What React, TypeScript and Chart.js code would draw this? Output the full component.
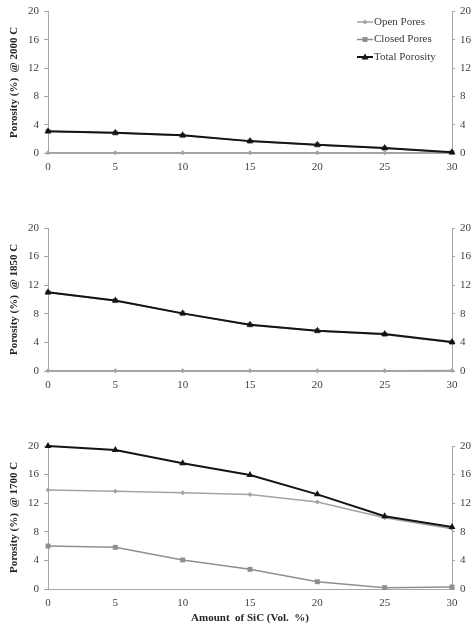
import React, { useEffect, useRef } from 'react';
import { Chart, registerables } from 'chart.js';
Chart.register(...registerables);

// ---- data ----
const sicAmount = [0, 5, 10, 15, 20, 25, 30];
const seriesNames = ['Open Pores', 'Closed Pores', 'Total Porosity'];

const open2000 = [0.03, 0.03, 0.03, 0.03, 0.03, 0.03, 0.03];
const closed2000 = [3.05, 2.82, 2.47, 1.65, 1.14, 0.67, 0.07];
const total2000 = [3.08, 2.85, 2.5, 1.68, 1.17, 0.7, 0.1];

const open1850 = [0.03, 0.03, 0.03, 0.03, 0.03, 0.05, 0.08];
const closed1850 = [10.97, 9.84, 8.03, 6.45, 5.61, 5.12, 3.97];
const total1850 = [11.0, 9.87, 8.06, 6.48, 5.64, 5.17, 4.05];

const open1700 = [13.85, 13.66, 13.47, 13.2, 12.17, 9.98, 8.44];
const closed1700 = [6.01, 5.83, 4.06, 2.75, 1.02, 0.19, 0.28];
const total1700 = [20.0, 19.44, 17.58, 15.94, 13.24, 10.17, 8.67];

const yMin = 0;
const yMax = 20;
const yStep = 4;
const xStep = 5;

const FONT = 'Liberation Serif';
const AXIS = '#a6a6a6';
const TICK = '#404040';

const styles = [
  { color: '#a3a3a3', width: 1.5, point: 'rectRot', radius: 2.5 },
  { color: '#8f8f8f', width: 1.5, point: 'rect', radius: 3.5 },
  { color: '#141414', width: 2, point: 'triangle', radius: 4 },
];

function legendPlugin(show: boolean) {
  return {
    id: 'customLegend',
    afterDraw(chart: any) {
      if (!show) return;
      const ctx = chart.ctx;
      const x0 = 357;
      const rows = [22, 39.5, 57];
      ctx.save();
      rows.forEach((y, i) => {
        const st = styles[i];
        ctx.strokeStyle = st.color;
        ctx.lineWidth = st.width;
        ctx.beginPath();
        ctx.moveTo(x0, y);
        ctx.lineTo(x0 + 16, y);
        ctx.stroke();
        const cx = x0 + 8;
        ctx.fillStyle = st.color;
        ctx.beginPath();
        if (st.point === 'rect') {
          ctx.rect(cx - 2.5, y - 2.5, 5, 5);
        } else if (st.point === 'rectRot') {
          ctx.moveTo(cx, y - 2.5);
          ctx.lineTo(cx + 2.5, y);
          ctx.lineTo(cx, y + 2.5);
          ctx.lineTo(cx - 2.5, y);
          ctx.closePath();
        } else {
          ctx.moveTo(cx, y - 3.5);
          ctx.lineTo(cx + 3.5, y + 2.5);
          ctx.lineTo(cx - 3.5, y + 2.5);
          ctx.closePath();
        }
        ctx.fill();
        ctx.fillStyle = '#3a3a3a';
        ctx.font = `11px "${FONT}"`;
        ctx.textBaseline = 'middle';
        ctx.textAlign = 'left';
        ctx.fillText(seriesNames[i], x0 + 17, y);
      });
      ctx.restore();
    },
  };
}

type PanelProps = {
  top: number;
  height: number;
  padTop: number;
  xHeight: number;
  temp: string;
  open: number[];
  closed: number[];
  total: number[];
  legend?: boolean;
  xTitle?: boolean;
};

function Panel(p: PanelProps) {
  const ref = useRef<HTMLCanvasElement>(null);
  useEffect(() => {
    if (!ref.current) return;
    const series = [p.open, p.closed, p.total];
    const datasets = series.map((vals, i) => ({
      label: seriesNames[i],
      data: vals.map((v, j) => ({ x: sicAmount[j], y: v })),
      borderColor: styles[i].color,
      backgroundColor: styles[i].color,
      borderWidth: styles[i].width,
      pointStyle: styles[i].point as any,
      pointRadius: styles[i].radius,
      pointBorderWidth: 0,
      pointBackgroundColor: styles[i].color,
      tension: 0,
      order: 2 - i,
      clip: false as any,
      yAxisID: 'y',
    }));
    const tickFont = { family: FONT, size: 11 };
    const chart = new Chart(ref.current, {
      type: 'line',
      data: { datasets },
      plugins: [legendPlugin(!!p.legend)],
      options: {
        animation: false,
        responsive: false,
        devicePixelRatio: 1,
        layout: { padding: { top: p.padTop, left: 0, right: 0, bottom: 0 } },
        plugins: { legend: { display: false }, tooltip: { enabled: false } },
        scales: {
          x: {
            type: 'linear',
            min: sicAmount[0],
            max: sicAmount[sicAmount.length - 1],
            ticks: { stepSize: xStep, padding: 8, font: tickFont, color: TICK, maxRotation: 0 },
            grid: { display: false, drawTicks: false },
            border: { display: true, color: AXIS, width: 1 },
            title: {
              display: !!p.xTitle,
              text: 'Amount  of SiC (Vol.  %)',
              font: { family: FONT, size: 11, weight: 'bold' },
              color: '#262626',
              padding: { top: 0, bottom: 12 },
            },
            afterFit: (s: any) => {
              s.height = p.xHeight;
            },
          },
          y: {
            position: 'left',
            min: yMin,
            max: yMax,
            ticks: { stepSize: yStep, padding: 5, font: tickFont, color: TICK },
            grid: { display: true, drawOnChartArea: false, drawTicks: true, tickLength: 4, color: AXIS },
            border: { display: true, color: AXIS, width: 1 },
            title: {
              display: true,
              text: `Porosity (%)  @ ${p.temp} C`,
              font: { family: FONT, size: 11, weight: 'bold' },
              color: '#262626',
              padding: { top: 8, bottom: 0 },
            },
            afterFit: (s: any) => {
              s.width = 48;
            },
          },
          y2: {
            position: 'right',
            min: yMin,
            max: yMax,
            ticks: { stepSize: yStep, padding: 5, font: tickFont, color: TICK },
            grid: { display: true, drawOnChartArea: false, drawTicks: true, tickLength: 3, color: AXIS },
            border: { display: true, color: AXIS, width: 1 },
            afterFit: (s: any) => {
              s.width = 23;
            },
          },
        },
      } as any,
    });
    return () => chart.destroy();
  }, []);
  return (
    <canvas
      ref={ref}
      width={475}
      height={p.height}
      style={{ position: 'absolute', left: 0, top: p.top, width: 475, height: p.height }}
    />
  );
}

export default function App() {
  return (
    <div style={{ position: 'absolute', left: 0, top: 0, width: 475, height: 637, background: '#fff' }}>
      <Panel top={0} height={190} padTop={10} xHeight={37} temp="2000" open={open2000} closed={closed2000} total={total2000} legend />
      <Panel top={200} height={195} padTop={28} xHeight={24} temp="1850" open={open1850} closed={closed1850} total={total1850} />
      <Panel top={400} height={237} padTop={46} xHeight={48} temp="1700" open={open1700} closed={closed1700} total={total1700} xTitle />
    </div>
  );
}
